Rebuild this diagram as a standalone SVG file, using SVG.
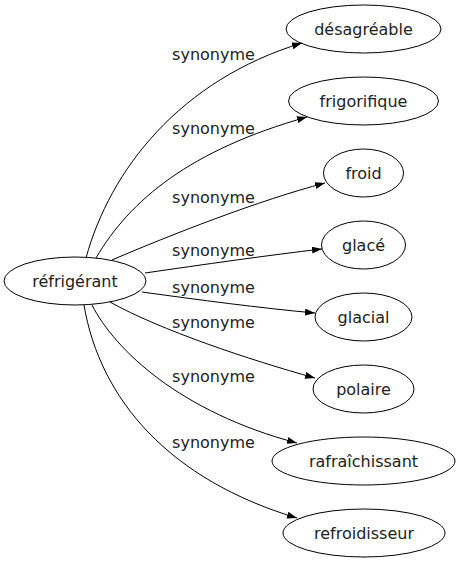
<svg xmlns="http://www.w3.org/2000/svg" width="461" height="563" viewBox="0 0 461 563">
<style>
.n ellipse{fill:none;stroke:#000;stroke-width:1}
text{font-family:"DejaVu Sans","Liberation Sans",sans-serif;font-size:16px;fill:#222;text-anchor:middle}
.e path{fill:none;stroke:#000;stroke-width:1;marker-end:url(#arr)}
</style>
<defs>
<marker id="arr" markerUnits="userSpaceOnUse" markerWidth="10" markerHeight="7" refX="10" refY="3.5" orient="auto">
<path d="M0,0 L10,3.5 L0,7 z" fill="#000"/>
</marker>
</defs>
<rect width="461" height="563" fill="#fff"/>
<g id="edges" class="e">
<path d="M86,258 C110,170 180,80 302,43"/>
<path d="M96,258 C130,200 190,150 307,117"/>
<path d="M112,260 C170,235 260,200 325,183"/>
<path d="M145,273 C200,265 270,255 322,249"/>
<path d="M142,292 C200,300 260,308 315,313"/>
<path d="M110,302 C160,330 250,360 315,378"/>
<path d="M92,305 C115,350 180,412 297,443"/>
<path d="M84,305 C100,400 170,480 297,518"/>
</g>
<g id="labels">
<text x="213.5" y="60">synonyme</text>
<text x="213.5" y="134">synonyme</text>
<text x="213.5" y="203">synonyme</text>
<text x="213.5" y="256">synonyme</text>
<text x="213.5" y="293">synonyme</text>
<text x="213.5" y="328">synonyme</text>
<text x="213.5" y="382">synonyme</text>
<text x="213.5" y="448">synonyme</text>
</g>
<g id="n0" class="n"><ellipse cx="75" cy="281" rx="71" ry="24"/><text x="75" y="287">réfrigérant</text></g>
<g id="n1" class="n"><ellipse cx="363.5" cy="29" rx="77.5" ry="24"/><text x="363.5" y="35">désagréable</text></g>
<g id="n2" class="n"><ellipse cx="363.5" cy="101" rx="75" ry="24"/><text x="363.5" y="107">frigorifique</text></g>
<g id="n3" class="n"><ellipse cx="363.5" cy="173" rx="40" ry="24"/><text x="363.5" y="179">froid</text></g>
<g id="n4" class="n"><ellipse cx="363.5" cy="245" rx="42" ry="24"/><text x="363.5" y="251">glacé</text></g>
<g id="n5" class="n"><ellipse cx="363.5" cy="317" rx="48.5" ry="24"/><text x="363.5" y="323">glacial</text></g>
<g id="n6" class="n"><ellipse cx="363.5" cy="389" rx="50.5" ry="24"/><text x="363.5" y="395">polaire</text></g>
<g id="n7" class="n"><ellipse cx="363.5" cy="461" rx="91.5" ry="24"/><text x="363.5" y="467">rafraîchissant</text></g>
<g id="n8" class="n"><ellipse cx="364" cy="533" rx="81" ry="24"/><text x="364" y="539">refroidisseur</text></g>
</svg>
